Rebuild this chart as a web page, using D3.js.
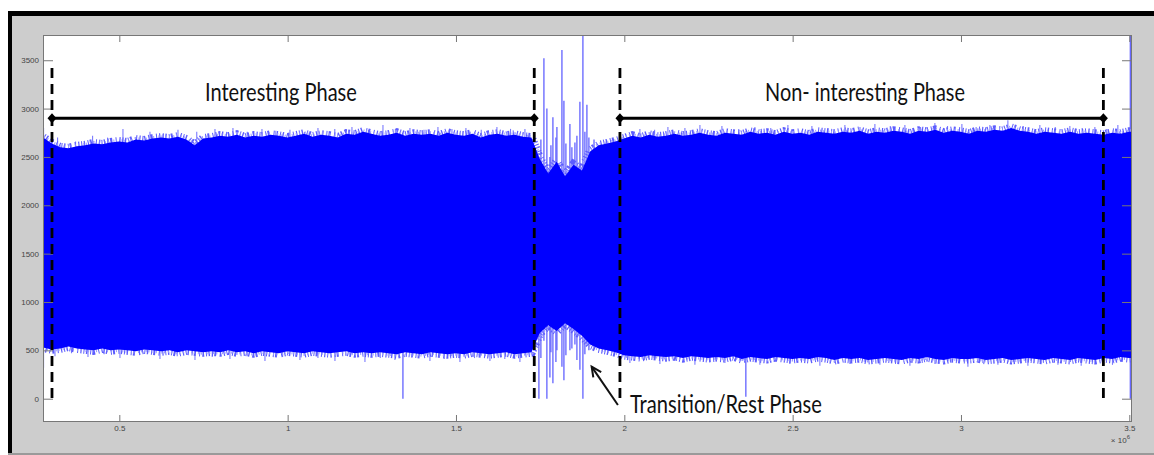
<!DOCTYPE html>
<html>
<head>
<meta charset="utf-8">
<script src="https://cdn.jsdelivr.net/npm/d3@7"></script>
<style>
  body { margin: 0; background: #fff; }
  svg { display: block; }
</style>
</head>
<body>
<div id="chart"></div>
<script>
// signal envelope, one sample every sampleStep (x 10^6)
const sampleStart = 0.274;
const sampleStep = 0.025;

const upperEnv = [
  2700, 2640, 2600, 2590, 2610, 2620, 2640, 2630, 2650, 2660,
  2650, 2680, 2670, 2690, 2700, 2690, 2710, 2680, 2620, 2690,
  2700, 2720, 2710, 2730, 2700, 2720, 2710, 2730, 2720, 2700,
  2720, 2740, 2710, 2730, 2720, 2700, 2740, 2730, 2760, 2740,
  2720, 2730, 2750, 2720, 2740, 2730, 2740, 2720, 2750, 2730,
  2720, 2740, 2700, 2730, 2740, 2720, 2730, 2710, 2700, 2480,
  2330, 2450, 2300, 2420, 2360, 2560, 2620, 2640, 2660, 2690,
  2720, 2700, 2730, 2710, 2720, 2740, 2720, 2730, 2750, 2730,
  2720, 2750, 2740, 2730, 2760, 2740, 2750, 2730, 2760, 2740,
  2750, 2730, 2760, 2750, 2740, 2760, 2750, 2770, 2740, 2760,
  2750, 2770, 2760, 2740, 2770, 2760, 2780, 2750, 2770, 2760,
  2740, 2770, 2760, 2780, 2770, 2800, 2770, 2760, 2740, 2760,
  2750, 2740, 2760, 2740, 2750, 2740, 2730, 2750, 2740, 2760,
  2760
];

const lowerEnv = [
  530, 510, 520, 540, 520, 510, 500, 520, 500, 510,
  500, 490, 510, 500, 490, 500, 480, 500, 490, 480,
  490, 480, 500, 480, 490, 470, 490, 480, 470, 490,
  480, 470, 490, 480, 470, 480, 490, 470, 480, 470,
  480, 470, 460, 480, 470, 460, 480, 470, 460, 470,
  460, 480, 470, 460, 470, 480, 460, 470, 480, 680,
  760, 700, 780, 720, 650, 560, 520, 500, 480, 450,
  440, 430, 450, 440, 430, 440, 420, 440, 430, 420,
  430, 420, 440, 410, 430, 420, 410, 430, 420, 410,
  420, 410, 430, 420, 400, 420, 410, 420, 400, 410,
  420, 410, 400, 420, 410, 430, 410, 400, 420, 410,
  410, 420, 400, 410, 420, 400, 410, 420, 410, 400,
  420, 410, 400, 420, 410, 400, 420, 410, 430, 420,
  420
];

// isolated spikes: position (x 10^6), min, max
const spikeX  = [0.2746, 1.3424, 2.3610, 3.5030,
                 1.7463, 1.7612, 1.7700, 1.7790, 1.7879, 1.7998, 1.8147,
                 1.8206, 1.8384, 1.8533, 1.8681, 1.8770, 1.8889,
                 1.7522, 1.7820, 1.7968, 1.8265, 1.8443, 1.8592, 1.8829, 1.8948, 1.9100];
const spikeLo = [320, 0, 20, 0,
                 0, 600, 0, 220, 160, 500, 330,
                 190, 500, 560, 300, 0, 560,
                 420, 480, 380, 450, 520, 400, 460, 500, 520];
const spikeHi = [2800, 600, 500, 3760,
                 2500, 3520, 3000, 2500, 2910, 2810, 3606,
                 3080, 2840, 2650, 3070, 3760, 3040,
                 2680, 2620, 2700, 2640, 2600, 2720, 2760, 2700, 2680];

// small hairs along the top and bottom edge of the band
const topHairX = [0.3166, 0.3700, 0.4206, 0.4650, 0.5108, 0.5510, 0.5910, 0.6300, 0.6742,
                  0.7300, 0.7841, 0.8375, 0.8800, 0.9237, 0.9650, 1.0068, 1.0500, 1.0900,
                  1.1400, 1.1910, 1.2400, 1.2831, 1.3200, 1.3632, 1.4050, 1.4464, 1.4880,
                  1.5295, 1.5750, 1.6216, 1.6620, 1.7048,
                  2.0463, 2.0900, 2.1295, 2.1800, 2.2246, 2.2899, 2.3400, 2.3879, 2.4350,
                  2.4859, 2.5572, 2.6050, 2.6552, 2.7000, 2.7443, 2.7900, 2.8334, 2.8800,
                  2.9225, 2.9600, 3.0027, 3.0450, 3.0859, 3.1393, 3.1850, 3.2343, 3.2800,
                  3.3234, 3.3600, 3.3977, 3.4330, 3.4660];
const topHairV = [2700, 2660, 2720, 2700, 2790, 2710, 2760, 2740, 2780,
                  2760, 2790, 2800, 2760, 2790, 2770, 2780, 2760, 2800,
                  2790, 2810, 2780, 2830, 2790, 2800, 2780, 2810, 2790,
                  2800, 2780, 2810, 2790, 2790,
                  2790, 2780, 2810, 2800, 2830, 2820, 2790, 2810, 2800,
                  2830, 2820, 2800, 2830, 2810, 2840, 2820, 2830, 2810,
                  2850, 2820, 2840, 2810, 2830, 2880, 2820, 2830, 2810,
                  2820, 2800, 2810, 2790, 2830];
const lowHairX = [0.3089, 0.3580, 0.4069, 0.4550, 0.5019, 0.5600, 0.6207, 0.6720, 0.7247,
                  0.7760, 0.8286, 0.8800, 0.9326, 0.9850, 1.0365, 1.0900, 1.1405, 1.1850,
                  1.2296, 1.2750, 1.3187, 1.3700, 1.4226, 1.4650, 1.5117, 1.5550, 1.6008,
                  1.6450, 1.6899,
                  2.0166, 2.0600, 2.1057, 2.1550, 2.2097, 2.2550, 2.2988, 2.3500, 2.4027,
                  2.4450, 2.4918, 2.5350, 2.5809, 2.6250, 2.6701, 2.7150, 2.7592, 2.8050,
                  2.8483, 2.8850, 2.9227, 2.9700, 3.0206, 3.0650, 3.1097, 3.1550, 3.1988,
                  3.2450, 3.2880, 3.3250, 3.3571, 3.4000, 3.4500];
const lowHairV = [440, 470, 430, 460, 420, 450, 410, 440, 400,
                  430, 410, 440, 390, 430, 400, 420, 390, 430,
                  380, 420, 400, 430, 390, 410, 380, 420, 390,
                  410, 380,
                  370, 400, 360, 390, 350, 380, 370, 390, 350,
                  380, 360, 390, 340, 370, 360, 380, 350, 370,
                  340, 370, 360, 380, 330, 370, 350, 380, 340,
                  370, 350, 380, 340, 370, 350];

// phase markers
const phaseBounds = [0.300, 1.7325, 1.987, 3.423];
const phaseSpans = [[0.300, 1.7325], [1.987, 3.423]];
const markerLevel = 2900;
const dashTop = 3420;
const dashBottom = -55;

const phaseLabels = ["Interesting Phase", "Non- interesting Phase"];
const phaseLabelX = [0.980, 2.715];
const phaseLabelV = 3076;
const restLabel = "Transition/Rest Phase";
const restLabelX = 2.0166;
const restLabelV = -148;
const arrowFrom = [1.981, -65];
const arrowTo = [1.903, 332];

const xTicks = [0.5, 1, 1.5, 2, 2.5, 3, 3.5];
const xTickLabels = ["0.5", "1", "1.5", "2", "2.5", "3", "3.5"];
const yTicks = [0, 500, 1000, 1500, 2000, 2500, 3000, 3500];

// layout
let svgWidth = 1154;
let svgHeight = 455;
let plot = { left: 43, top: 35, right: 1132, bottom: 422 };

let svg = d3.select("#chart")
    .append("svg")
    .attr("width", svgWidth)
    .attr("height", svgHeight);

// figure background with the black frame
svg.append("rect")
    .attr("x", 8).attr("y", 11)
    .attr("width", svgWidth - 8).attr("height", 442)
    .attr("fill", "#000");
svg.append("rect")
    .attr("x", 12).attr("y", 16)
    .attr("width", svgWidth - 12).attr("height", 437)
    .attr("fill", "#cdcdcd");
svg.append("rect")
    .attr("x", 8).attr("y", 453)
    .attr("width", svgWidth - 8).attr("height", 2)
    .attr("fill", "#9a9a9a");

let x = d3.scaleLinear()
    .domain([0.2733, 3.508])
    .range([plot.left, plot.right]);

let y = d3.scaleLinear()
    .domain([-241, 3761])
    .range([plot.bottom, plot.top]);

svg.append("rect")
    .attr("x", plot.left).attr("y", plot.top)
    .attr("width", plot.right - plot.left)
    .attr("height", plot.bottom - plot.top)
    .attr("fill", "#fff");

svg.append("clipPath").attr("id", "clip")
  .append("rect")
    .attr("x", plot.left).attr("y", plot.top)
    .attr("width", plot.right - plot.left)
    .attr("height", plot.bottom - plot.top);

let sig = svg.append("g").attr("clip-path", "url(#clip)");

// hairs drawn behind the band
sig.selectAll(".thair")
    .data(topHairX)
    .enter()
    .append("line")
    .attr("x1", d => x(d)).attr("x2", d => x(d))
    .attr("y1", (d, i) => y(topHairV[i]))
    .attr("y2", y(1500))
    .attr("stroke", "#7a7aff")
    .attr("stroke-width", 1.1);

sig.selectAll(".lhair")
    .data(lowHairX)
    .enter()
    .append("line")
    .attr("x1", d => x(d)).attr("x2", d => x(d))
    .attr("y1", (d, i) => y(lowHairV[i]))
    .attr("y2", y(1500))
    .attr("stroke", "#7a7aff")
    .attr("stroke-width", 1.1);

sig.selectAll(".spike")
    .data(spikeX)
    .enter()
    .append("line")
    .attr("x1", d => x(d)).attr("x2", d => x(d))
    .attr("y1", (d, i) => y(spikeLo[i]))
    .attr("y2", (d, i) => y(spikeHi[i]))
    .attr("stroke", "#6262ff")
    .attr("stroke-width", 1.3);

// fuzzy comb along both edges: a wide dashed stroke gives short vertical hairs
let sx = (d, i) => x(sampleStart + i * sampleStep);
let edge = d3.line().x(sx).y(d => y(d));

[upperEnv, lowerEnv].forEach(arr => {
    sig.append("path")
        .datum(arr)
        .attr("d", edge)
        .attr("fill", "none")
        .attr("stroke", "#5c5cff")
        .attr("stroke-width", 9)
        .attr("stroke-dasharray", "1,1.6,1.4,2.8,1,1.2,2,3.4,1,2.2,1.2,1.8");
    sig.append("path")
        .datum(arr)
        .attr("d", edge)
        .attr("fill", "none")
        .attr("stroke", "#9a9aff")
        .attr("stroke-width", 5)
        .attr("stroke-dasharray", "1,3.1,1,2.3,1,4.2,1,1.7");
});

let band = d3.area()
    .x(sx)
    .y0((d, i) => y(lowerEnv[i]))
    .y1(d => y(d))
    .curve(d3.curveLinear);

sig.append("path")
    .datum(upperEnv)
    .attr("d", band)
    .attr("fill", "#0000ff");

// axes (MATLAB style box, ticks inside)
function styleAxis(g) {
    g.select(".domain").remove();
    g.selectAll(".tick line").attr("stroke", "#777");
    g.selectAll(".tick text")
        .attr("fill", "#444")
        .style("font-family", "Liberation Sans, Arial, sans-serif")
        .style("font-size", "8px");
}

svg.append("g")
    .attr("transform", `translate(0, ${plot.bottom})`)
    .call(d3.axisBottom(x).tickValues(xTicks)
        .tickFormat((d, i) => xTickLabels[i])
        .tickSizeInner(-7).tickSizeOuter(0).tickPadding(3))
    .call(styleAxis);

svg.append("g")
    .attr("transform", `translate(0, ${plot.top})`)
    .call(d3.axisTop(x).tickValues(xTicks).tickFormat("")
        .tickSizeInner(-7).tickSizeOuter(0))
    .call(styleAxis);

svg.append("g")
    .attr("transform", `translate(${plot.left}, 0)`)
    .call(d3.axisLeft(y).tickValues(yTicks).tickFormat(d3.format("d"))
        .tickSizeInner(-10).tickSizeOuter(0).tickPadding(4))
    .call(styleAxis);

svg.append("g")
    .attr("transform", `translate(${plot.right}, 0)`)
    .call(d3.axisRight(y).tickValues(yTicks).tickFormat("")
        .tickSizeInner(-10).tickSizeOuter(0))
    .call(styleAxis);

svg.append("rect")
    .attr("x", plot.left + 0.5).attr("y", plot.top + 0.5)
    .attr("width", plot.right - plot.left - 1)
    .attr("height", plot.bottom - plot.top - 1)
    .attr("fill", "none")
    .attr("stroke", "#777");

// exponent note
let expo = svg.append("text")
    .attr("x", plot.right - 2).attr("y", 443)
    .attr("text-anchor", "end")
    .attr("fill", "#444")
    .style("font-family", "Liberation Sans, Arial, sans-serif")
    .style("font-size", "8px");
expo.append("tspan").text("\u00d7 10");
expo.append("tspan").attr("dy", -4).style("font-size", "6px").text("6");

// phase annotations
let ann = svg.append("g");

ann.selectAll(".bound")
    .data(phaseBounds)
    .enter()
    .append("line")
    .attr("x1", d => x(d)).attr("x2", d => x(d))
    .attr("y1", y(dashTop)).attr("y2", y(dashBottom))
    .attr("stroke", "#000")
    .attr("stroke-width", 2.8)
    .attr("stroke-dasharray", "10,6");

ann.selectAll(".span")
    .data(phaseSpans)
    .enter()
    .append("line")
    .attr("x1", d => x(d[0])).attr("x2", d => x(d[1]))
    .attr("y1", y(markerLevel)).attr("y2", y(markerLevel))
    .attr("stroke", "#000")
    .attr("stroke-width", 3);

ann.selectAll(".diamond")
    .data(phaseBounds)
    .enter()
    .append("path")
    .attr("transform", d => `translate(${x(d)}, ${y(markerLevel)})`)
    .attr("d", "M0,-5 L4.5,0 L0,5 L-4.5,0 Z")
    .attr("fill", "#000");

let labelFont = "Lato, 'Open Sans', sans-serif";
let labelWidths = [152, 200];

phaseLabels.forEach((txt, i) => {
    let g = ann.append("g")
        .attr("transform", `translate(${x(phaseLabelX[i])}, ${y(phaseLabelV)})`);
    let t = g.append("text")
        .attr("text-anchor", "middle")
        .attr("fill", "#111")
        .style("font-family", labelFont)
        .style("font-size", "25px")
        .text(txt);
    let w = t.node().getComputedTextLength();
    t.attr("transform", `scale(${labelWidths[i] / w}, 1)`);
});

let rg = ann.append("g")
    .attr("transform", `translate(${x(restLabelX)}, ${y(restLabelV)})`);
let rt = rg.append("text")
    .attr("fill", "#111")
    .style("font-family", labelFont)
    .style("font-size", "25px")
    .text(restLabel);
let rw = rt.node().getComputedTextLength();
rt.attr("transform", `scale(${192 / rw}, 1)`);

// arrow towards the transition phase
let ax1 = x(arrowFrom[0]), ay1 = y(arrowFrom[1]);
let ax2 = x(arrowTo[0]), ay2 = y(arrowTo[1]);
let ang = Math.atan2(ay2 - ay1, ax2 - ax1);
let hl = 11, hw = 0.45;
ann.append("line")
    .attr("x1", ax1).attr("y1", ay1)
    .attr("x2", ax2).attr("y2", ay2)
    .attr("stroke", "#111")
    .attr("stroke-width", 2);
ann.append("path")
    .attr("d", `M${ax2 - hl * Math.cos(ang - hw)},${ay2 - hl * Math.sin(ang - hw)}
                L${ax2},${ay2}
                L${ax2 - hl * Math.cos(ang + hw)},${ay2 - hl * Math.sin(ang + hw)}`)
    .attr("fill", "none")
    .attr("stroke", "#111")
    .attr("stroke-width", 2);
</script>
</body>
</html>
